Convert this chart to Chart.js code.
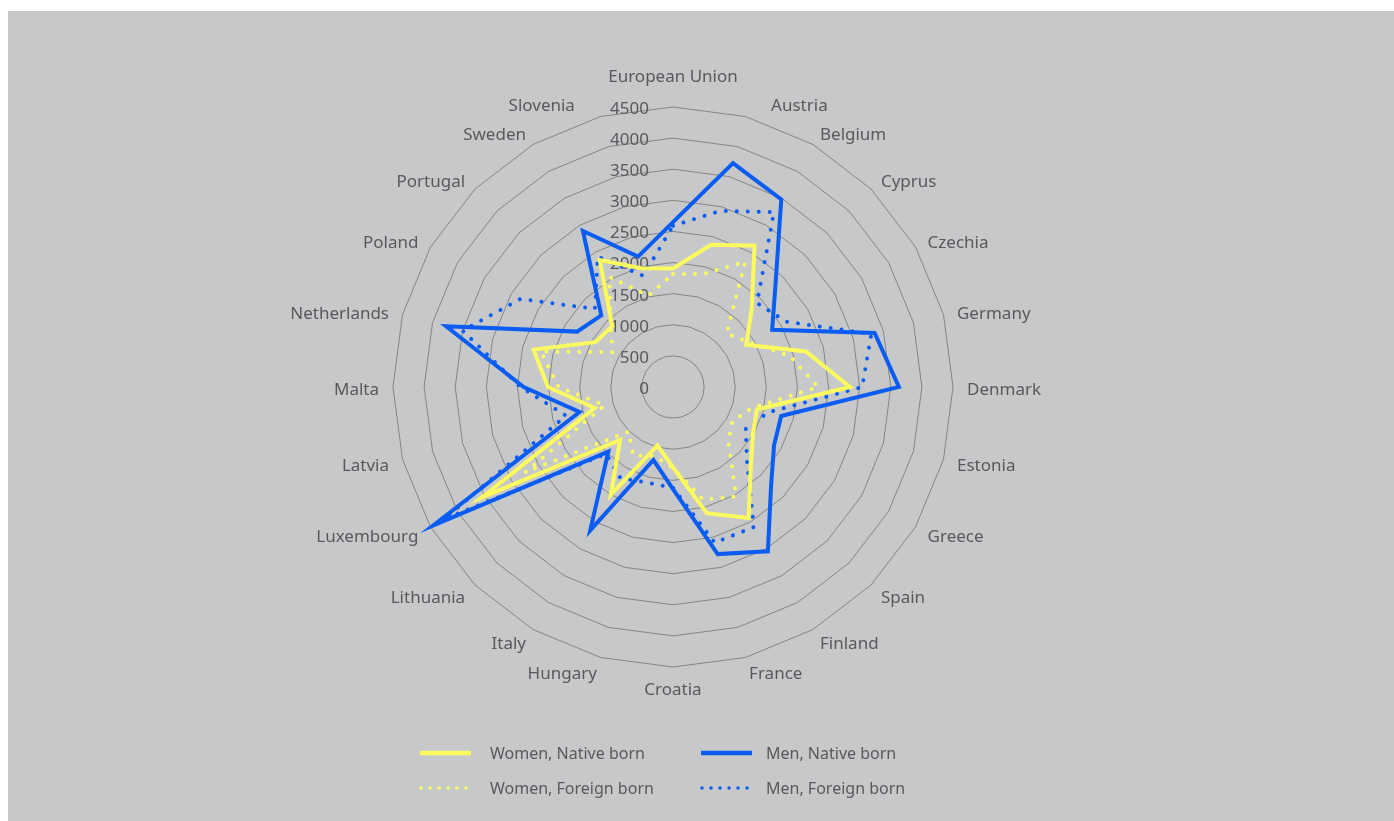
<!DOCTYPE html>
<html>
<head>
<meta charset="utf-8">
<script src="https://cdn.jsdelivr.net/npm/chart.js@4.4.1/dist/chart.umd.min.js"></script>
<style>
  html, body { margin: 0; padding: 0; background: #fff; }
  canvas { display: block; }
</style>
</head>
<body>
<canvas id="chart" width="1394" height="821"></canvas>
<script>
const countries = ['European Union', 'Austria', 'Belgium', 'Cyprus', 'Czechia', 'Germany', 'Denmark',
    'Estonia', 'Greece', 'Spain', 'Finland', 'France', 'Croatia', 'Hungary', 'Italy', 'Lithuania',
    'Luxembourg', 'Latvia', 'Malta', 'Netherlands', 'Poland', 'Portugal', 'Sweden', 'Slovenia'];

const womenNative = [1905, 2365, 2620, 1790, 1360, 2210, 2845, 1395, 1485, 1770, 2430, 2100,
    1290, 970, 1995, 1205, 3545, 1300, 2010, 2320, 1440, 1380, 2355, 1975];
const menNative = [2650, 3725, 3480, 2330, 1840, 3355, 3630, 1800, 1875, 2230, 3050, 2780,
    1640, 1215, 2660, 1470, 4450, 1555, 2400, 3775, 1780, 1630, 2895, 2170];
const womenForeign = [1815, 1880, 2325, 1215, 1430, 1940, 2330, 1310, 1100, 1260, 2030, 1875,
    1300, 1150, 1270, 1010, 2740, 1135, 1840, 2200, 1120, 1420, 2040, 1520];
const menForeign = [2590, 2930, 3245, 1910, 2100, 3300, 3040, 1580, 1350, 1680, 2600, 2590,
    1620, 1590, 1690, 1520, 4250, 1780, 2450, 3500, 2830, 1775, 2420, 1850];

const scaleMin = 0;
const scaleMax = 4500;
const scaleStep = 500;

const YELLOW = '#fbfb5f';
const BLUE = '#0a5cf2';
const TEXT = '#58595b';
const FONT = '"Noto Sans", sans-serif';

// grey panel behind everything
const background = {
    id: 'background',
    beforeDraw(chart) {
        const ctx = chart.ctx;
        ctx.save();
        ctx.fillStyle = '#ffffff';
        ctx.fillRect(0, 0, chart.width, chart.height);
        ctx.fillStyle = '#c7c8ca';
        ctx.fillRect(8, 11, chart.width - 8, chart.height - 11);
        ctx.restore();
    }
};

// tick labels sit left of the centre line, point labels around the web
const radarText = {
    id: 'radarText',
    beforeDatasetsDraw(chart) {
        const ctx = chart.ctx;
        const scale = chart.scales.r;
        ctx.save();
        ctx.font = '17px ' + FONT;
        ctx.fillStyle = TEXT;

        ctx.textAlign = 'right';
        ctx.textBaseline = 'middle';
        scale.ticks.forEach(tick => {
            const d = scale.getDistanceFromCenterForValue(tick.value);
            ctx.fillText(String(tick.value), scale.xCenter - 24, scale.yCenter - d + 2);
        });

        countries.forEach((name, i) => {
            const deg = i * 360 / countries.length;
            let r = 294;
            let align = deg < 180 ? 'left' : 'right';
            if (deg === 0) { r = 313; align = 'center'; }
            if (deg === 180) { r = 300; align = 'center'; }
            const p = scale.getPointPosition(i, r);
            let x = p.x;
            // the two labels next to the top one are pushed outwards
            if (deg === 15) x += 22;
            if (deg === 345) x -= 22;
            ctx.textAlign = align;
            ctx.fillText(name, x, p.y + 3);
        });
        ctx.restore();
    }
};

// 2 x 2 legend under the chart
const gridLegend = {
    id: 'gridLegend',
    afterDraw(chart) {
        const ctx = chart.ctx;
        const lineX = [420, 701];
        const textX = [490, 766];
        const rows = [753, 788];
        ctx.save();
        ctx.font = '16px ' + FONT;
        ctx.textBaseline = 'middle';
        ctx.textAlign = 'left';
        chart.data.datasets.forEach((ds, i) => {
            const x = lineX[i % 2];
            const y = rows[Math.floor(i / 2)];
            ctx.beginPath();
            ctx.strokeStyle = ds.borderColor;
            if (ds.borderDash.length) {
                ctx.lineWidth = 3.5;
                ctx.lineCap = 'round';
                ctx.setLineDash([0.01, 9]);
                ctx.moveTo(x + 1, y);
                ctx.lineTo(x + 47, y);
            } else {
                ctx.lineWidth = 4.5;
                ctx.lineCap = 'butt';
                ctx.setLineDash([]);
                ctx.moveTo(x, y);
                ctx.lineTo(x + 51, y);
            }
            ctx.stroke();
            ctx.fillStyle = TEXT;
            ctx.fillText(ds.label, textX[i % 2], y + 1);
        });
        ctx.restore();
    }
};

function series(label, data, color, dotted) {
    return {
        label: label,
        data: data,
        borderColor: color,
        backgroundColor: color,
        borderWidth: 4,
        borderDash: dotted ? [0.01, 11] : [],
        borderCapStyle: dotted ? 'round' : 'butt',
        borderJoinStyle: 'miter',
        pointRadius: 0,
        pointHoverRadius: 0,
        fill: false,
        tension: 0
    };
}

new Chart(document.getElementById('chart'), {
    type: 'radar',
    data: {
        labels: countries,
        datasets: [
            series('Women, Native born', womenNative, YELLOW, false),
            series('Men, Native born', menNative, BLUE, false),
            series('Women, Foreign born', womenForeign, YELLOW, true),
            series('Men, Foreign born', menForeign, BLUE, true)
        ]
    },
    options: {
        responsive: false,
        animation: false,
        layout: { padding: { top: 107, bottom: 154, left: 0, right: 48 } },
        plugins: {
            legend: { display: false },
            tooltip: { enabled: false }
        },
        scales: {
            r: {
                min: scaleMin,
                max: scaleMax,
                ticks: { stepSize: scaleStep, display: false },
                grid: { color: '#858585', lineWidth: 1 },
                angleLines: { display: false },
                pointLabels: { display: false }
            }
        }
    },
    plugins: [background, radarText, gridLegend]
});
</script>
</body>
</html>
